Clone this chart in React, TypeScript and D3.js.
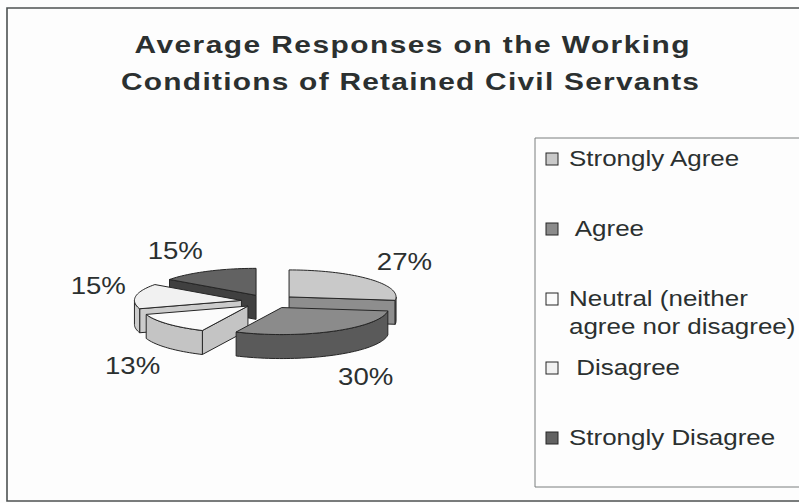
import React from "react";
import * as d3 from "d3";

const categories = [
  "Strongly Agree",
  "Agree",
  "Neutral (neither agree nor disagree)",
  "Disagree",
  "Strongly Disagree",
];
const values = [27, 30, 13, 15, 15];
const legendLines = [
  ["Strongly Agree"],
  [" Agree"],
  ["Neutral (neither", "agree nor disagree)"],
  [" Disagree"],
  ["Strongly Disagree"],
];
const titleLines = [
  "Average Responses on the Working",
  "Conditions of Retained Civil Servants",
];
const topColors = ["#c9c9c9", "#8b8b8b", "#fbfbfb", "#f1f1f1", "#626262"];
const sideColors = ["#8e8e8e", "#5a5a5a", "#c4c4c4", "#cccccc", "#404040"];

const W = 799;
const H = 503;
const CX = 268.5;
const CY = 301.5;
const RX = 107;
const RY = 27;
const DEPTH = 24;
const EXPLODE = 0.256;
const FONT = "'Liberation Sans', Arial, Helvetica, sans-serif";
const TEXT = "#2b3030";
const STROKE = "#262626";

type Pt = [number, number];

function rim(P: Pt, t: number, dy = 0): Pt {
  return [P[0] + RX * Math.sin(t), P[1] - RY * Math.cos(t) + dy];
}
function arcPts(P: Pt, a0: number, a1: number, dy = 0): Pt[] {
  const n = Math.max(2, Math.ceil((a1 - a0) / (Math.PI / 90)));
  const pts: Pt[] = [];
  for (let i = 0; i <= n; i++) pts.push(rim(P, a0 + ((a1 - a0) * i) / n, dy));
  return pts;
}
const toPath = (pts: Pt[]) =>
  "M" + pts.map((p) => p[0].toFixed(2) + "," + p[1].toFixed(2)).join("L") + "Z";

export default function App() {
  const pie = d3
    .pie<number>()
    .sort(null)
    .startAngle(0)
    .endAngle(2 * Math.PI)
    .value((d) => d);
  const arcs = pie(values);

  const slices = arcs.map((a, i) => {
    const mid = (a.startAngle + a.endAngle) / 2;
    const P: Pt = [
      CX + EXPLODE * RX * Math.sin(mid),
      CY - EXPLODE * RY * Math.cos(mid),
    ];
    return { a, i, mid, P };
  });
  const order = [...slices].sort(
    (s1, s2) => -Math.cos(s1.mid) - -Math.cos(s2.mid)
  );

  const pieces: React.ReactNode[] = [];
  order.forEach(({ a, i, P }) => {
    const a0 = a.startAngle;
    const a1 = a.endAngle;
    const faces: string[] = [];
    if (Math.sin(a0) < -1e-6) {
      const r = rim(P, a0);
      faces.push(toPath([P, r, [r[0], r[1] + DEPTH], [P[0], P[1] + DEPTH]]));
    }
    if (Math.sin(a1) > 1e-6) {
      const r = rim(P, a1);
      faces.push(toPath([P, r, [r[0], r[1] + DEPTH], [P[0], P[1] + DEPTH]]));
    }
    const f0 = Math.max(a0, Math.PI / 2);
    const f1 = Math.min(a1, (3 * Math.PI) / 2);
    if (f1 > f0) {
      const top = arcPts(P, f0, f1);
      const bot = arcPts(P, f0, f1, DEPTH).reverse();
      faces.push(toPath([...top, ...bot]));
    }
    faces.forEach((d, k) =>
      pieces.push(
        <path
          key={`s${i}-${k}`}
          d={d}
          fill={sideColors[i]}
          stroke={STROKE}
          strokeWidth={1}
          strokeLinejoin="round"
        />
      )
    );
    pieces.push(
      <path
        key={`t${i}`}
        d={toPath([P, ...arcPts(P, a0, a1)])}
        fill={topColors[i]}
        stroke={STROKE}
        strokeWidth={1}
        strokeLinejoin="round"
      />
    );
  });

  const CAP = 17;
  const labels = slices.map(({ mid, i, P }) => {
    const s = Math.sin(mid);
    const c = -Math.cos(mid);
    const r = rim(P, mid, c > 0 ? DEPTH : 0);
    const qx = r[0] + s * 10;
    const qy = r[1] + c * 14;
    const baseline = c > 0 ? qy + CAP : qy;
    return (
      <text
        key={`l${i}`}
        transform={`translate(${qx.toFixed(1)},${baseline.toFixed(1)}) scale(1.2,1)`}
        textAnchor={s >= 0 ? "start" : "end"}
        fontFamily={FONT}
        fontSize={23}
        fill={TEXT}
      >
        {values[i] + "%"}
      </text>
    );
  });

  const legendBaselines = [166, 236, 306, 375, 445];

  return (
    <svg
      width={W}
      height={H}
      viewBox={`0 0 ${W} ${H}`}
      style={{ position: "absolute", left: 0, top: 0, background: "#fdfdfd" }}
    >
      <rect x={0} y={0} width={W} height={H} fill="#fdfdfd" />
      <path
        d={`M${W + 5},8 L7,8 L7,501 L${W + 5},501`}
        fill="none"
        stroke="#4d5252"
        strokeWidth={1.6}
      />
      {titleLines.map((t, k) => (
        <text
          key={`title${k}`}
          transform={`translate(${k === 0 ? 412 : 410},${k === 0 ? 53 : 90}) scale(1.3,1)`}
          textAnchor="middle"
          fontFamily={FONT}
          fontWeight="bold"
          fontSize={23}
          fill={TEXT}
          textLength={k === 0 ? 555 / 1.3 : 578 / 1.3}
          lengthAdjust="spacing"
        >
          {t}
        </text>
      ))}
      {pieces}
      {labels}
      <path
        d={`M${W + 5},138 L535,138 L535,487 L${W + 5},487`}
        fill="none"
        stroke="#7a7f7f"
        strokeWidth={1}
      />
      {categories.map((cat, i) => {
        const by = legendBaselines[i];
        return (
          <g key={`leg${i}`}>
            <rect
              x={546}
              y={by - 13}
              width={12}
              height={12}
              fill={topColors[i]}
              stroke={STROKE}
              strokeWidth={1}
            />
            {legendLines[i].map((ln, j) => (
              <text
                key={j}
                transform={`translate(569,${by + j * 28}) scale(1.18,1)`}
                fontFamily={FONT}
                fontSize={22}
                fill={TEXT}
                style={{ whiteSpace: "pre" }}
              >
                {ln}
              </text>
            ))}
          </g>
        );
      })}
    </svg>
  );
}
